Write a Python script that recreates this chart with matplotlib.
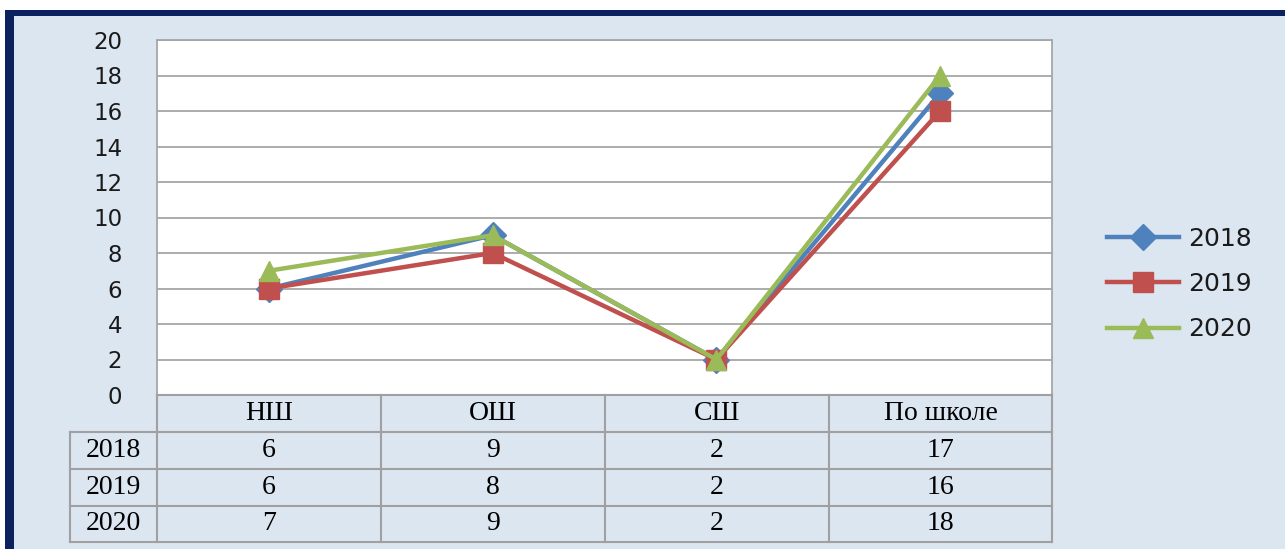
import matplotlib
matplotlib.use("Agg")
import matplotlib.pyplot as plt
from matplotlib.patches import Rectangle
from matplotlib.lines import Line2D

categories = ["НШ", "ОШ", "СШ", "По школе"]
years = ["2018", "2019", "2020"]
values_2018 = [6, 9, 2, 17]
values_2019 = [6, 8, 2, 16]
values_2020 = [7, 9, 2, 18]
series = [values_2018, values_2019, values_2020]
colors = ["#4F81BD", "#C0504D", "#9BBB59"]
markers = ["D", "s", "^"]
msizes = [13, 15, 15]
yticks = [0, 2, 4, 6, 8, 10, 12, 14, 16, 18, 20]

W, H = 1285, 549
fig = plt.figure(figsize=(W / 100, H / 100), dpi=100)
fig.patch.set_facecolor("white")

def fx(x):
    return x / W

def fy(y):
    return 1 - y / H

# background and border
bg = "#DCE6F1"
navy = "#0B2160"
fig.add_artist(Rectangle((fx(5), 0), 1 - fx(5), fy(10), transform=fig.transFigure,
                         facecolor=navy, edgecolor="none", zorder=0))
fig.add_artist(Rectangle((fx(14), 0), 1 - fx(14), fy(16), transform=fig.transFigure,
                         facecolor=bg, edgecolor="none", zorder=0))

# plot area
L, R, T, B = 157, 1052, 40, 395
ax = fig.add_axes([fx(L), fy(B), fx(R) - fx(L), fy(T) - fy(B)])
ax.set_facecolor("white")
ax.set_xlim(-0.5, len(categories) - 0.5)
ax.set_ylim(0, 20)
ax.set_yticks(yticks)
ax.set_yticklabels([str(v) for v in yticks], fontsize=16.5, color="#1a1a1a",
                   family="DejaVu Sans")
ax.tick_params(axis="y", length=0, pad=25)
ax.set_xticks([])
ax.grid(axis="y", color="#A6A6A6", linewidth=1.3)
ax.set_axisbelow(True)
for s in ax.spines.values():
    s.set_color("#A6A6A6")
    s.set_linewidth(1.3)

xs = list(range(len(categories)))
handles = []
for vals, c, m, ms, yr in zip(series, colors, markers, msizes, years):
    ln, = ax.plot(xs, vals, color=c, linewidth=3.2, marker=m, markersize=ms,
                  markeredgecolor=c, label=yr, clip_on=False, zorder=3)
    handles.append(ln)

leg = fig.legend(handles=handles, labels=years, loc="center left",
                 bbox_to_anchor=(fx(1084), fy(284)), frameon=False,
                 handlelength=2.9, labelspacing=0.85,
                 prop={"family": "DejaVu Sans", "size": 18}, handletextpad=0.35)
for t in leg.get_texts():
    t.set_color("#1a1a1a")

# data table below the axes
gray = "#A0A0A0"
col_edges = [157, 381, 605, 829, 1052]
row_edges = [395, 432, 469, 506, 542]
lab_left = 70

def hline(x0, x1, y):
    fig.add_artist(Line2D([fx(x0), fx(x1)], [fy(y), fy(y)], transform=fig.transFigure,
                          color=gray, linewidth=1.5))

def vline(x, y0, y1):
    fig.add_artist(Line2D([fx(x), fx(x)], [fy(y0), fy(y1)], transform=fig.transFigure,
                          color=gray, linewidth=1.5))

hline(col_edges[0], col_edges[-1], row_edges[0])
for y in row_edges[1:]:
    hline(lab_left, col_edges[-1], y)
for x in col_edges:
    vline(x, row_edges[0], row_edges[-1])
vline(lab_left, row_edges[1], row_edges[-1])

tfont = dict(family="Liberation Serif", fontsize=20, color="black",
             ha="center", va="center")
for i, cat in enumerate(categories):
    cx = (col_edges[i] + col_edges[i + 1]) / 2
    cy = (row_edges[0] + row_edges[1]) / 2
    fig.text(fx(cx), fy(cy), cat, **tfont)
for r, (yr, vals) in enumerate(zip(years, series)):
    cy = (row_edges[r + 1] + row_edges[r + 2]) / 2
    fig.text(fx((lab_left + col_edges[0]) / 2), fy(cy), yr, **tfont)
    for i, v in enumerate(vals):
        cx = (col_edges[i] + col_edges[i + 1]) / 2
        fig.text(fx(cx), fy(cy), str(v), **tfont)

fig.savefig("out.png", dpi=100)
